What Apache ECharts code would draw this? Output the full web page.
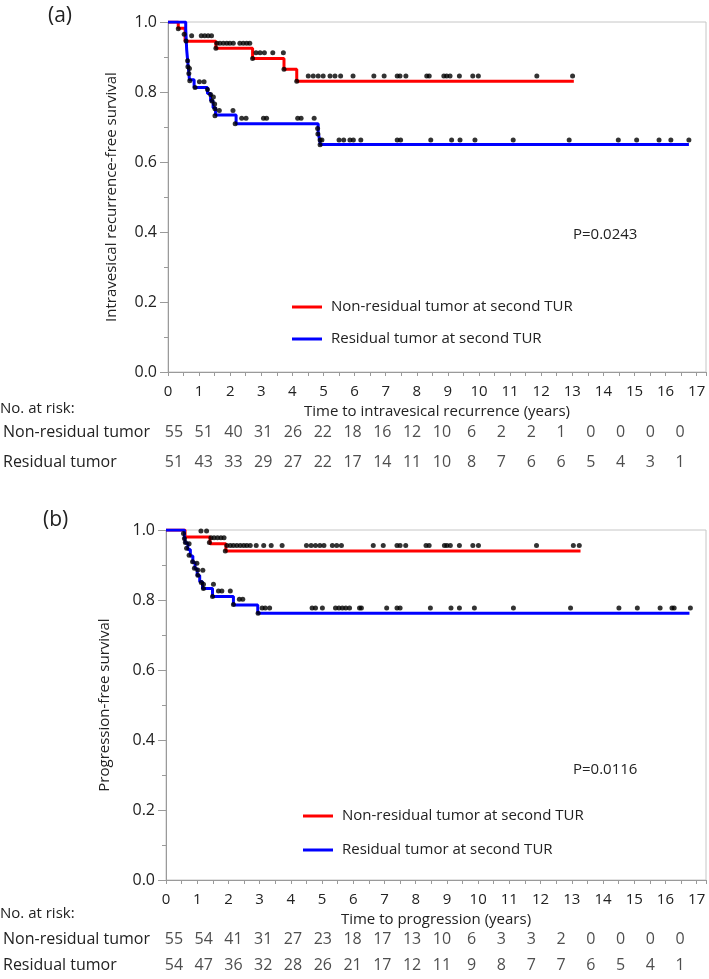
<!DOCTYPE html>
<html>
<head>
<meta charset="utf-8">
<script src="https://cdn.jsdelivr.net/npm/echarts@6/dist/echarts.min.js"></script>
<style>
html,body{margin:0;padding:0;background:#fff;}
#chart{width:709px;height:979px;}
</style>
</head>
<body>
<div id="chart"></div>
<script>
// ---------------- DATA ----------------
const nameNonRes = 'Non-residual tumor at second TUR';
const nameRes = 'Residual tumor at second TUR';
const riskRowNames = ['Non-residual tumor', 'Residual tumor'];
const riskYears = ['0','1','2','3','4','5','6','7','8','9','10','11','12','13','14','15','16','17'];

// Panel (a): intravesical recurrence-free survival (step curves)
const redTimesA = [0, 0.33, 0.55, 1.54, 2.72, 3.73, 4.14, 13.05];
const redSurvA  = [1.0, 0.982, 0.945, 0.925, 0.896, 0.865, 0.831, 0.831];
const blueTimesA = [0, 0.57, 0.58, 0.59, 0.60, 0.62, 0.64, 0.66, 0.69, 0.84, 1.27, 1.37, 1.45, 1.53, 2.19, 4.83, 4.87, 4.90, 16.75];
const blueSurvA  = [1.0, 0.980, 0.961, 0.941, 0.922, 0.902, 0.882, 0.863, 0.835, 0.813, 0.796, 0.775, 0.755, 0.734, 0.709, 0.685, 0.665, 0.650, 0.650];

// Panel (a): censor marks [time, plotted survival]
const redCensA = [
  [0.33,0.981],
  [0.76,0.961],[1.07,0.961],[1.18,0.961],[1.29,0.961],[1.40,0.961],
  [1.54,0.925],
  [1.57,0.939],[1.67,0.939],[1.78,0.939],[1.89,0.939],[1.99,0.939],[2.10,0.939],[2.31,0.939],[2.42,0.939],[2.53,0.939],[2.63,0.939],
  [2.72,0.896],
  [2.83,0.912],[2.96,0.912],[3.10,0.912],[3.37,0.912],[3.71,0.912],
  [3.73,0.865],[4.14,0.831],
  [4.51,0.846],[4.67,0.846],[4.83,0.846],[4.99,0.846],[5.21,0.846],[5.37,0.846],[5.55,0.846],[5.95,0.846],
  [6.62,0.846],[6.95,0.846],[7.37,0.846],[7.46,0.846],[7.65,0.846],[8.32,0.846],[8.40,0.846],[8.87,0.846],
  [8.96,0.846],[9.07,0.846],[9.37,0.846],[9.80,0.846],[9.98,0.846],[11.86,0.846],[13.01,0.846]
];
const blueCensA = [
  [0.52,0.965],[0.58,0.946],[0.63,0.889],[0.64,0.872],[0.67,0.853],[0.69,0.867],[0.70,0.832],
  [0.87,0.813],[1.01,0.829],[1.16,0.829],
  [1.27,0.807],[1.37,0.793],[1.46,0.786],[1.41,0.774],[1.50,0.766],[1.51,0.752],[1.65,0.747],[1.51,0.732],[2.09,0.747],
  [2.16,0.709],[2.37,0.725],[2.51,0.725],[3.07,0.725],[3.17,0.725],[4.17,0.725],[4.28,0.725],[4.70,0.725],
  [4.81,0.696],[4.82,0.680],[4.89,0.663],[4.95,0.663],[4.89,0.649],
  [5.50,0.663],[5.65,0.663],[5.85,0.663],[5.96,0.663],[6.20,0.663],[7.37,0.663],[7.48,0.663],[8.45,0.663],
  [9.12,0.663],[9.39,0.663],[9.87,0.663],[11.10,0.663],[12.90,0.663],[14.48,0.663],[15.07,0.663],
  [15.79,0.663],[16.17,0.663],[16.75,0.663]
];

// Panel (b): progression-free survival (step curves)
const redTimesB = [0, 0.61, 1.41, 1.92, 13.28];
const redSurvB  = [1.0, 0.980, 0.961, 0.940, 0.940];
const blueTimesB = [0, 0.59, 0.62, 0.70, 0.78, 0.86, 0.93, 1.00, 1.08, 1.17, 1.49, 2.16, 2.94, 16.77];
const blueSurvB  = [1.0, 0.981, 0.963, 0.944, 0.926, 0.907, 0.889, 0.870, 0.852, 0.833, 0.810, 0.786, 0.762, 0.762];

const redCensB = [
  [1.12,0.997],[1.30,0.997],[1.39,0.964],
  [1.44,0.978],[1.54,0.978],[1.65,0.978],[1.76,0.978],[1.86,0.978],
  [1.90,0.940],
  [1.95,0.956],[2.06,0.956],[2.16,0.956],[2.27,0.956],[2.38,0.956],[2.49,0.956],[2.59,0.956],[2.70,0.956],
  [2.89,0.956],[3.13,0.956],[3.37,0.956],[3.72,0.956],[4.50,0.956],[4.65,0.956],[4.79,0.956],[4.93,0.956],
  [5.06,0.956],[5.33,0.956],[5.47,0.956],[5.62,0.956],[6.64,0.956],[6.96,0.956],[7.40,0.956],[7.50,0.956],
  [7.68,0.956],[8.33,0.956],[8.43,0.956],[8.92,0.956],[9.00,0.956],[9.11,0.956],[9.40,0.956],[9.83,0.956],
  [10.01,0.956],[11.87,0.956],[13.05,0.956],[13.24,0.956]
];
const blueCensB = [
  [0.56,0.990],[0.59,0.976],[0.62,0.964],[0.74,0.961],[0.66,0.948],[0.74,0.928],[0.85,0.909],[0.99,0.905],
  [0.91,0.891],[1.02,0.886],[1.18,0.885],[1.02,0.871],[1.13,0.850],[1.20,0.845],[1.52,0.845],[1.20,0.833],
  [1.68,0.826],[1.79,0.826],[2.06,0.826],[1.49,0.810],[2.16,0.787],[2.35,0.802],[2.46,0.802],[2.95,0.762],
  [3.08,0.777],[3.18,0.777],[3.32,0.777],[4.68,0.777],[4.79,0.777],[5.01,0.777],[5.43,0.777],[5.54,0.777],
  [5.65,0.777],[5.76,0.777],[5.88,0.777],[6.20,0.777],[6.26,0.777],[7.07,0.777],[7.40,0.777],[7.50,0.777],
  [8.47,0.777],[9.13,0.777],[9.40,0.777],[9.88,0.777],[11.13,0.777],[12.96,0.777],[14.51,0.777],[15.10,0.777],
  [15.83,0.777],[16.21,0.777],[16.28,0.777],[16.80,0.777]
];

// Numbers at risk
const riskNonResA = [55,51,40,31,26,22,18,16,12,10,6,2,2,1,0,0,0,0];
const riskResA    = [51,43,33,29,27,22,17,14,11,10,8,7,6,6,5,4,3,1];
const riskNonResB = [55,54,41,31,27,23,18,17,13,10,6,3,3,2,0,0,0,0];
const riskResB    = [54,47,36,32,28,26,21,17,12,11,9,8,7,7,6,5,4,1];

const pValueA = 'P=0.0243';
const pValueB = 'P=0.0116';
const yNameA = 'Intravesical recurrence-free survival';
const yNameB = 'Progression-free survival';
const xNameA = 'Time to intravesical recurrence (years)';
const xNameB = 'Time to progression (years)';

// ---------------- CHART ----------------
const FONT = "'Open Sans', 'Noto Sans', sans-serif";
const TXT = '#222';
const AX = '#9a9a9a';
const zip = (a, b) => a.map((v, i) => [v, b[i]]);

function plotX(gi, name) {
  return {
    type: 'value', gridIndex: gi, min: 0, max: 17.3, interval: 1,
    name: name, nameLocation: 'middle', nameGap: 32,
    nameTextStyle: { fontSize: 15, color: TXT, fontFamily: FONT },
    axisLine: { lineStyle: { color: AX, width: 1 } },
    axisTick: { length: 4, lineStyle: { color: AX } },
    minorTick: { show: true, splitNumber: 2, length: 4, lineStyle: { color: AX } },
    splitLine: { show: false },
    axisLabel: { fontSize: 15, color: TXT, fontFamily: FONT, margin: 12,
      formatter: v => (Math.abs(v - Math.round(v)) < 1e-6 ? String(Math.round(v)) : '') }
  };
}
function plotY(gi, name, gap) {
  return {
    type: 'value', gridIndex: gi, min: 0, max: 1, interval: 0.2,
    name: name, nameLocation: 'middle', nameGap: gap,
    nameTextStyle: { fontSize: 15, color: TXT, fontFamily: FONT },
    axisLine: { show: true, lineStyle: { color: AX, width: 1 } },
    axisTick: { show: true, length: 8, lineStyle: { color: AX } },
    minorTick: { show: true, splitNumber: 2, length: 4, lineStyle: { color: AX } },
    splitLine: { show: false },
    axisLabel: { fontSize: 16, color: TXT, fontFamily: FONT, margin: 11, formatter: v => v.toFixed(1) }
  };
}
function riskX(gi) {
  return { type: 'category', gridIndex: gi, data: riskYears, show: false, boundaryGap: true };
}
function riskY(gi) {
  return {
    type: 'category', gridIndex: gi, data: riskRowNames, inverse: true,
    axisLine: { show: false }, axisTick: { show: false }, splitLine: { show: false },
    axisLabel: { align: 'left', margin: 156, fontSize: 16, color: TXT, fontFamily: FONT }
  };
}
function stepSeries(name, xi, times, surv, color, z) {
  return {
    type: 'line', name: name, xAxisIndex: xi, yAxisIndex: xi, step: 'end',
    data: zip(times, surv), showSymbol: false, symbol: 'none', silent: true,
    lineStyle: { color: color, width: 3 }, itemStyle: { color: color }, z: z
  };
}
function censSeries(xi, pts) {
  return {
    type: 'scatter', name: 'censored', xAxisIndex: xi, yAxisIndex: xi, data: pts,
    symbol: 'circle', symbolSize: 5, itemStyle: { color: '#000' }, silent: true, z: 5
  };
}
function riskSeries(gi, row, values) {
  return {
    type: 'scatter', xAxisIndex: gi, yAxisIndex: gi, silent: true,
    data: values.map((v, i) => [i, row, v]),
    symbolSize: 1, itemStyle: { color: 'rgba(0,0,0,0)' },
    label: { show: true, position: 'inside', formatter: p => String(p.value[2]),
      fontSize: 16, color: TXT, fontFamily: FONT }
  };
}
function legendAt(left, top, gap) {
  return {
    data: [nameNonRes, nameRes], orient: 'vertical', left: left, top: top,
    itemWidth: 30, itemHeight: 3, itemGap: gap, icon: 'rect', selectedMode: false,
    textStyle: { fontSize: 15, color: TXT, fontFamily: FONT, lineHeight: 20, padding: [0, 0, 0, 4] }
  };
}

const option = {
  animation: false,
  backgroundColor: '#fff',
  textStyle: { fontFamily: FONT },
  title: [
    { text: '(a)', left: 43, top: 1, textStyle: { fontSize: 21, fontWeight: 'normal', color: TXT, fontFamily: FONT } },
    { text: '(b)', left: 38, top: 505, textStyle: { fontSize: 21, fontWeight: 'normal', color: TXT, fontFamily: FONT } }
  ],
  legend: [legendAt(287, 292, 12), legendAt(298, 801, 14)],
  grid: [
    { left: 168, top: 22, width: 538, height: 350, show: true, borderColor: '#c6c6c6', borderWidth: 1 },
    { left: 166, top: 530, width: 540, height: 350, show: true, borderColor: '#c6c6c6', borderWidth: 1 },
    { left: 153, top: 418, width: 542, height: 59 },
    { left: 153, top: 926, width: 542, height: 59 }
  ],
  xAxis: [plotX(0, xNameA), plotX(1, xNameB), riskX(2), riskX(3)],
  yAxis: [plotY(0, yNameA, 49), plotY(1, yNameB, 54), riskY(2), riskY(3)],
  graphic: [
    { type: 'text', left: 573, top: 227, style: { text: pValueA, fontSize: 15, fill: TXT, fontFamily: FONT } },
    { type: 'text', left: 573, top: 762, style: { text: pValueB, fontSize: 15, fill: TXT, fontFamily: FONT } },
    { type: 'text', left: 0, top: 401, style: { text: 'No. at risk:', fontSize: 15, fill: TXT, fontFamily: FONT } },
    { type: 'text', left: 0, top: 906, style: { text: 'No. at risk:', fontSize: 15, fill: TXT, fontFamily: FONT } }
  ],
  series: [
    stepSeries(nameNonRes, 0, redTimesA, redSurvA, '#ff0000', 2),
    stepSeries(nameRes, 0, blueTimesA, blueSurvA, '#0000ff', 3),
    censSeries(0, redCensA),
    censSeries(0, blueCensA),
    stepSeries(nameNonRes, 1, redTimesB, redSurvB, '#ff0000', 2),
    stepSeries(nameRes, 1, blueTimesB, blueSurvB, '#0000ff', 3),
    censSeries(1, redCensB),
    censSeries(1, blueCensB),
    riskSeries(2, 0, riskNonResA),
    riskSeries(2, 1, riskResA),
    riskSeries(3, 0, riskNonResB),
    riskSeries(3, 1, riskResB)
  ]
};

const chart = echarts.init(document.getElementById('chart'), null, { renderer: 'canvas' });
chart.setOption(option);
</script>
</body>
</html>
